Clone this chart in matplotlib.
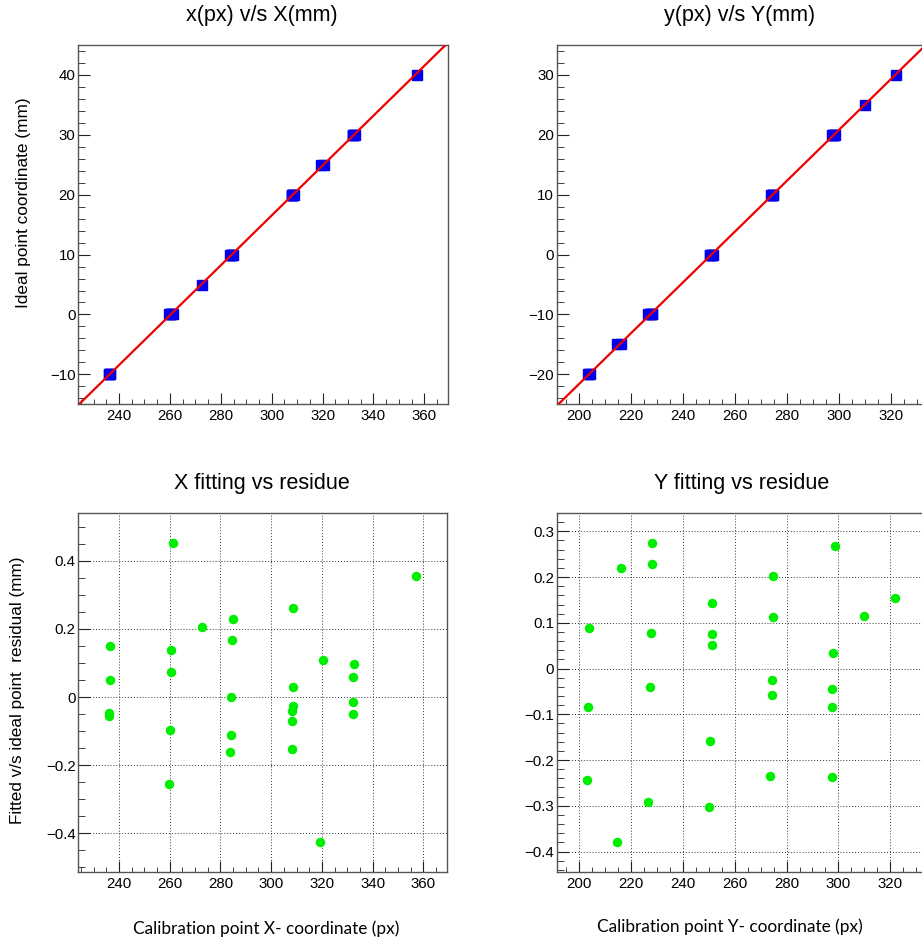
import numpy as np
import matplotlib
matplotlib.use("Agg")
import matplotlib.pyplot as plt
from matplotlib.ticker import MultipleLocator, FuncFormatter

plt.rcParams['font.family'] = ['Liberation Sans', 'DejaVu Sans']

# calibration points, X direction
x_px = [236.6, 236.3, 236.1, 236.1, 261.4, 260.6, 260.6, 260.0, 259.6, 272.7,
        284.8, 284.4, 284.0, 284.0, 283.6, 308.7, 308.5, 308.5, 308.1, 308.1,
        308.1, 320.4, 319.4, 332.7, 332.1, 332.1, 332.1, 357.2]
x_ideal = [-10, -10, -10, -10, 0, 0, 0, 0, 0, 5,
           10, 10, 10, 10, 10, 20, 20, 20, 20, 20,
           20, 25, 25, 30, 30, 30, 30, 40]
x_resid = [0.151, 0.049, -0.047, -0.055, 0.452, 0.139, 0.074, -0.097, -0.255, 0.207,
           0.229, 0.167, 0.001, -0.111, -0.162, 0.263, 0.029, -0.026, -0.040, -0.069,
           -0.153, 0.108, -0.427, 0.098, 0.058, -0.016, -0.050, 0.356]

# calibration points, Y direction
y_px = [204.0, 203.6, 203.2, 216.2, 214.7, 228.0, 228.0, 227.7, 227.3, 226.5,
        251.4, 251.1, 251.1, 250.5, 250.2, 274.7, 274.7, 274.3, 274.3, 273.6,
        298.5, 298.1, 297.7, 297.7, 297.4, 310.0, 321.7]
y_ideal = [-20, -20, -20, -15, -15, -10, -10, -10, -10, -10,
           0, 0, 0, 0, 0, 10, 10, 10, 10, 10,
           20, 20, 20, 20, 20, 25, 30]
y_resid = [0.089, -0.084, -0.244, 0.219, -0.380, 0.274, 0.229, 0.078, -0.040, -0.291,
           0.144, 0.075, 0.052, -0.158, -0.302, 0.203, 0.113, -0.026, -0.058, -0.235,
           0.269, 0.033, -0.045, -0.083, -0.237, 0.115, 0.154]

W, H = 922, 942
fig = plt.figure(figsize=(W / 100, H / 100), dpi=100)


def frame(left, top, right, bottom):
    return fig.add_axes([left / W, 1 - bottom / H, (right - left) / W, (bottom - top) / H])


def padded(v):
    lo, hi = min(v), max(v)
    d = 0.1 * (hi - lo)
    return lo - d, hi + d


def fmt(v, pos):
    s = '%g' % round(v, 6)
    return s.replace('-', '\u2212')


def style(ax, ymaj, ymin, grid=False):
    ax.xaxis.set_major_locator(MultipleLocator(20))
    ax.xaxis.set_minor_locator(MultipleLocator(5))
    ax.yaxis.set_major_locator(MultipleLocator(ymaj))
    ax.yaxis.set_minor_locator(MultipleLocator(ymin))
    ax.xaxis.set_major_formatter(FuncFormatter(fmt))
    ax.yaxis.set_major_formatter(FuncFormatter(fmt))
    ax.tick_params(which='both', direction='in', top=False, right=False,
                   labelsize=10.8, color='#222222')
    ax.tick_params(axis='y', which='major', length=8.5, pad=2)
    ax.tick_params(axis='y', which='minor', length=5)
    ax.tick_params(axis='x', which='major', length=8, pad=3.5)
    ax.tick_params(axis='x', which='minor', length=3.5)
    for sp in ax.spines.values():
        sp.set_color('#555555')
        sp.set_linewidth(1.0)
    if grid:
        ax.grid(True, which='major', color='#333333', linestyle=(0, (1, 2)), linewidth=0.7)
        ax.set_axisbelow(True)


def fit_panel(ax, px, ideal):
    xl = padded(px)
    yl = padded(ideal)
    k, b = np.polyfit(px, ideal, 1)
    xx = np.linspace(xl[0], xl[1], 200)
    ax.plot(xx, k * xx + b, color='#ee0000', lw=1.6, zorder=3)
    ax.plot(px, ideal, 's', color='#0000ee', ms=6.8, mec='#0000ee', zorder=2)
    ax.set_xlim(xl)
    ax.set_ylim(yl)


def resid_panel(ax, px, res):
    ax.plot(px, res, 'o', color='#00ee00', ms=5.8, mec='#00ee00', zorder=3)
    ax.set_xlim(padded(px))
    ax.set_ylim(padded(res))


ax1 = frame(78.3, 45, 448, 404.3)
fit_panel(ax1, x_px, x_ideal)
style(ax1, 10, 2)

ax2 = frame(556.7, 45, 926.4, 404.3)
fit_panel(ax2, y_px, y_ideal)
style(ax2, 10, 2)

ax3 = frame(78.3, 513.3, 447, 872.3)
resid_panel(ax3, x_px, x_resid)
style(ax3, 0.2, 0.05, grid=True)

ax4 = frame(556.7, 513.3, 925.4, 872.3)
resid_panel(ax4, y_px, y_resid)
style(ax4, 0.1, 0.02, grid=True)

# titles and axis titles
fig.text(262 / W, 1 - 16 / H, 'x(px) v/s X(mm)', ha='center', va='center', fontsize=15.5)
fig.text(740 / W, 1 - 16 / H, 'y(px) v/s Y(mm)', ha='center', va='center', fontsize=15.5)
fig.text(262 / W, 1 - 483 / H, 'X fitting vs residue', ha='center', va='center', fontsize=15.5)
fig.text(742 / W, 1 - 483 / H, 'Y fitting vs residue', ha='center', va='center', fontsize=15.5)

fig.text(24 / W, 1 - 203 / H, 'Ideal point coordinate (mm)', rotation=90,
         ha='center', va='center', fontsize=12.4)
fig.text(18 / W, 1 - 690 / H, 'Fitted v/s ideal point  residual (mm)', rotation=90,
         ha='center', va='center', fontsize=12.3)

fig.text(266 / W, 1 - 929 / H, 'Calibration point X- coordinate (px)',
         ha='center', va='center', fontsize=12.4, family=['Lato', 'DejaVu Sans'])
fig.text(730 / W, 1 - 927 / H, 'Calibration point Y- coordinate (px)',
         ha='center', va='center', fontsize=12.4, family=['Lato', 'DejaVu Sans'])

fig.savefig('out.png', dpi=100)
